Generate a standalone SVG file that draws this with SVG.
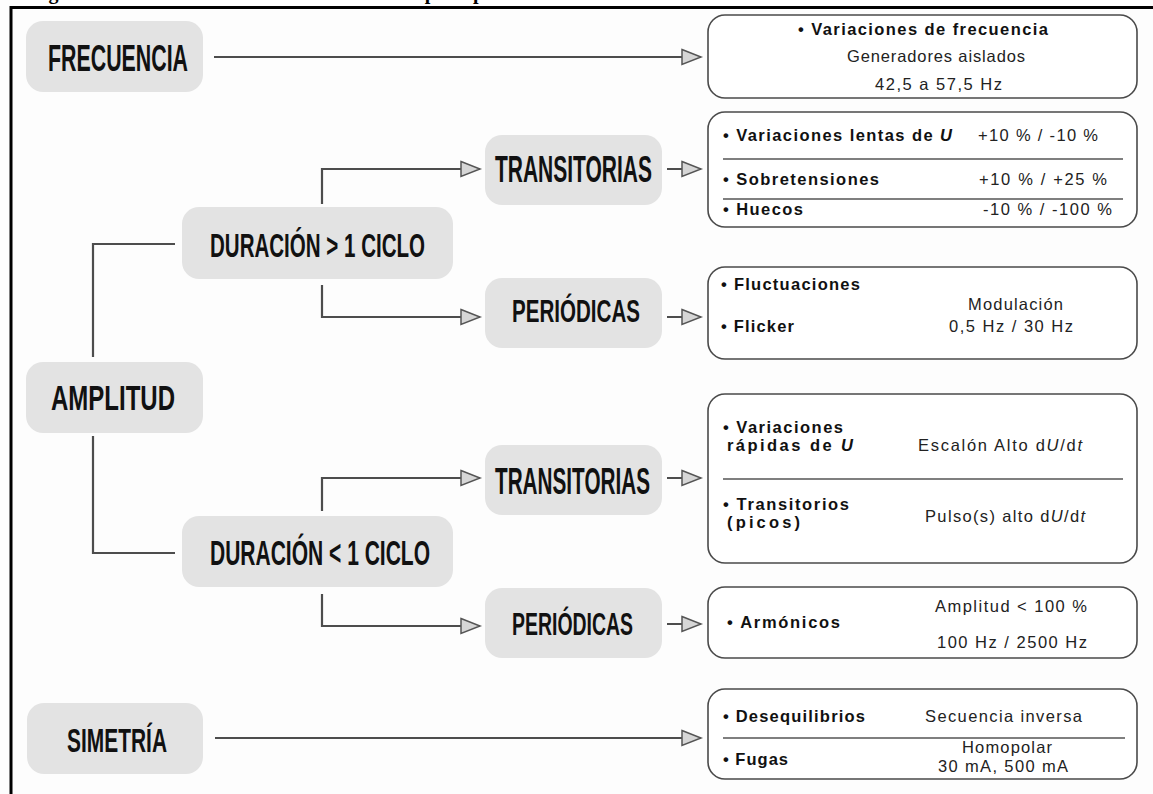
<svg xmlns="http://www.w3.org/2000/svg" width="1153" height="794" viewBox="0 0 1153 794">
<defs>
<style>
.bg{fill:#fdfdfd}
.frame{stroke:#000;stroke-width:3;fill:none}
.node{fill:#e3e3e3}
.big{font-family:"Liberation Sans",Arial,sans-serif;font-weight:bold;fill:#111;text-anchor:start}
.box{fill:#fff;stroke:#4a4a4a;stroke-width:1.6}
.div{stroke:#555;stroke-width:1.3}
.t{font-family:"Liberation Sans",Arial,sans-serif;font-size:16.5px;fill:#222}
.b{font-weight:bold;fill:#111}
.conn{fill:none;stroke:#4d4d4d;stroke-width:2.2}
.ttl{font-family:"Liberation Serif","Times New Roman",serif;font-weight:bold;font-size:20px;fill:#000}
</style>
<marker id="arr" markerUnits="userSpaceOnUse" markerWidth="24" markerHeight="20" refX="21" refY="9" orient="auto">
<path d="M2,1.5 L21,9 L2,16.5 Z" fill="#d6d6d6" stroke="#555" stroke-width="1.5"/>
</marker>
</defs>
<rect class="bg" x="0" y="0" width="1153" height="794"/>
<text class="ttl" x="24" y="-1.5" textLength="846">Figura 1.1: Parámetros afectados por perturbaciones en la red eléctrica</text>
<path class="frame" d="M11,794 V7.5 H1153"/>

<g id="connectors">
<path class="conn" d="M214,57 H701" marker-end="url(#arr)"/>
<path class="conn" d="M93,357 V244 H175"/>
<path class="conn" d="M93,436 V553 H175"/>
<path class="conn" d="M322,204 V169 H480" marker-end="url(#arr)"/>
<path class="conn" d="M322,285 V317 H480" marker-end="url(#arr)"/>
<path class="conn" d="M322,511 V478 H480" marker-end="url(#arr)"/>
<path class="conn" d="M322,594 V626 H480" marker-end="url(#arr)"/>
<path class="conn" d="M667,169 H701" marker-end="url(#arr)"/>
<path class="conn" d="M667,317 H701" marker-end="url(#arr)"/>
<path class="conn" d="M667,478 H701" marker-end="url(#arr)"/>
<path class="conn" d="M667,624 H701" marker-end="url(#arr)"/>
<path class="conn" d="M215,738 H701" marker-end="url(#arr)"/>
</g>

<g id="frecuencia">
<rect class="node" x="26" y="21" width="177" height="71" rx="17"/>
<text class="big" x="48" y="71" font-size="37" textLength="140" lengthAdjust="spacingAndGlyphs">FRECUENCIA</text>
</g>
<g id="amplitud">
<rect class="node" x="26" y="362" width="177" height="71" rx="17"/>
<text class="big" x="51" y="410" font-size="35" textLength="124" lengthAdjust="spacingAndGlyphs">AMPLITUD</text>
</g>
<g id="duracion-mayor">
<rect class="node" x="182" y="207" width="271" height="72" rx="17"/>
<text class="big" x="210" y="257" font-size="34" textLength="215" lengthAdjust="spacingAndGlyphs">DURACIÓN &gt; 1 CICLO</text>
</g>
<g id="transitorias-1">
<rect class="node" x="485" y="135" width="177" height="70" rx="17"/>
<text class="big" x="495" y="182" font-size="36" textLength="157" lengthAdjust="spacingAndGlyphs">TRANSITORIAS</text>
</g>
<g id="periodicas-1">
<rect class="node" x="485" y="278" width="177" height="70" rx="17"/>
<text class="big" x="512" y="322" font-size="31" textLength="128" lengthAdjust="spacingAndGlyphs">PERIÓDICAS</text>
</g>
<g id="duracion-menor">
<rect class="node" x="182" y="516" width="271" height="71" rx="17"/>
<text class="big" x="210" y="565" font-size="35" textLength="220" lengthAdjust="spacingAndGlyphs">DURACIÓN &lt; 1 CICLO</text>
</g>
<g id="transitorias-2">
<rect class="node" x="485" y="445" width="177" height="70" rx="17"/>
<text class="big" x="495" y="494" font-size="36" textLength="155" lengthAdjust="spacingAndGlyphs">TRANSITORIAS</text>
</g>
<g id="periodicas-2">
<rect class="node" x="485" y="588" width="177" height="70" rx="17"/>
<text class="big" x="512" y="635" font-size="31" textLength="121" lengthAdjust="spacingAndGlyphs">PERIÓDICAS</text>
</g>
<g id="simetria">
<rect class="node" x="27" y="703" width="176" height="71" rx="17"/>
<text class="big" x="67" y="752" font-size="33" textLength="100" lengthAdjust="spacingAndGlyphs">SIMETRÍA</text>
</g>

<g id="box-frecuencia">
<rect class="box" x="708" y="15" width="429" height="83" rx="17"/>
<text class="t b" x="798" y="35" textLength="250">• Variaciones de frecuencia</text>
<text class="t" x="847" y="62" textLength="178">Generadores aislados</text>
<text class="t" x="875" y="90" textLength="127">42,5 a 57,5 Hz</text>
</g>
<g id="box-transitorias-1">
<rect class="box" x="708" y="112" width="429" height="115" rx="17"/>
<line class="div" x1="723" y1="159" x2="1123" y2="159"/>
<line class="div" x1="723" y1="199" x2="1123" y2="199"/>
<text class="t b" x="723" y="141" textLength="229">• Variaciones lentas de <tspan font-style="italic">U</tspan></text>
<text class="t" x="978" y="141" textLength="120">+10 % / -10 %</text>
<text class="t b" x="723" y="185" textLength="156">• Sobretensiones</text>
<text class="t" x="979" y="185" textLength="128">+10 % / +25 %</text>
<text class="t b" x="723" y="215" textLength="80">• Huecos</text>
<text class="t" x="983" y="215" textLength="129">-10 % / -100 %</text>
</g>
<g id="box-periodicas-1">
<rect class="box" x="708" y="267" width="429" height="92" rx="17"/>
<text class="t b" x="721" y="290" textLength="139">• Fluctuaciones</text>
<text class="t" x="968" y="310" textLength="95">Modulación</text>
<text class="t b" x="721" y="332" textLength="73">• Flicker</text>
<text class="t" x="949" y="332" textLength="124">0,5 Hz / 30 Hz</text>
</g>
<g id="box-transitorias-2">
<rect class="box" x="708" y="394" width="429" height="169" rx="17"/>
<line class="div" x1="723" y1="479" x2="1123" y2="479"/>
<text class="t b" x="723" y="433" textLength="120">• Variaciones</text>
<text class="t b" x="727" y="451" textLength="126">rápidas de <tspan font-style="italic">U</tspan></text>
<text class="t" x="918" y="451" textLength="164">Escalón Alto d<tspan font-style="italic">U</tspan>/d<tspan font-style="italic">t</tspan></text>
<text class="t b" x="723" y="510" textLength="126">• Transitorios</text>
<text class="t b" x="727" y="528" textLength="73">(picos)</text>
<text class="t" x="925" y="522" textLength="160">Pulso(s) alto d<tspan font-style="italic">U</tspan>/d<tspan font-style="italic">t</tspan></text>
</g>
<g id="box-periodicas-2">
<rect class="box" x="708" y="587" width="429" height="71" rx="17"/>
<text class="t b" x="727" y="628" textLength="113">• Armónicos</text>
<text class="t" x="935" y="612" textLength="152">Amplitud &lt; 100 %</text>
<text class="t" x="937" y="648" textLength="150">100 Hz / 2500 Hz</text>
</g>
<g id="box-simetria">
<rect class="box" x="708" y="689" width="429" height="90" rx="17"/>
<line class="div" x1="723" y1="738" x2="1125" y2="738"/>
<text class="t b" x="723" y="722" textLength="142">• Desequilibrios</text>
<text class="t" x="925" y="722" textLength="157">Secuencia inversa</text>
<text class="t b" x="723" y="765" textLength="65">• Fugas</text>
<text class="t" x="962" y="753" textLength="90">Homopolar</text>
<text class="t" x="938" y="772" textLength="130">30 mA, 500 mA</text>
</g>
</svg>
